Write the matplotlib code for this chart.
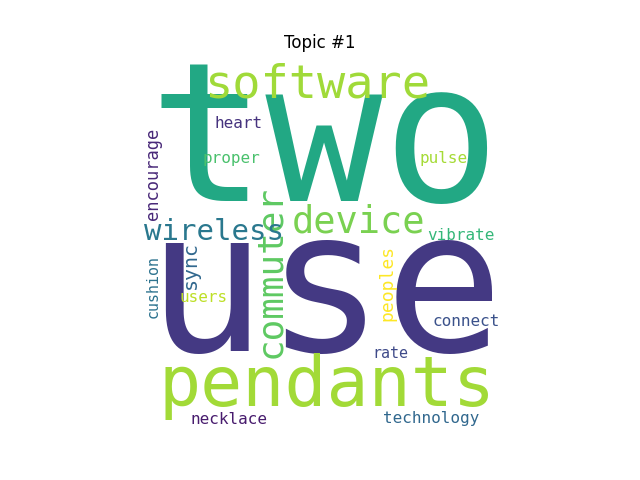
import matplotlib
matplotlib.use("Agg")
import matplotlib.pyplot as plt

words = ["two","use","software","pendants","device","commuter","wireless","sync","peoples",
         "encourage","cushion","heart","proper","pulse","vibrate","users","connect","rate",
         "necklace","technology"]
em_px = [195,198,47,70,37,36,29,20,18,17,15,16,16,16,16,16,16,15,16,16]
cx = [325,325,317,327,358,270,214,190,387,153,153,239,231,444,461,204,466,390,229,431]
cy = [146,296,85,387,222,272,232,265,283,174,287,123,159,158,236,298,321,354,419,419]
rot = [0,0,0,0,0,90,0,90,90,90,90,0,0,0,0,0,0,0,0,0]
colors = ["#22a884","#443983","#a0da39","#a2da37","#7ad151","#5ec962","#2a788e","#31688e",
          "#fde725","#482878","#2c728e","#46337e","#4ac16d","#a5db36","#35b779","#bddf26",
          "#3b528b","#3e4a89","#481c6e","#31688e"]

fig = plt.figure(figsize=(6.4,4.8), dpi=100)
ax = fig.add_axes([0,0,1,1])
ax.set_xlim(0,640); ax.set_ylim(480,0); ax.axis("off")
for w,e,x,y,r,c in zip(words,em_px,cx,cy,rot,colors):
    ax.text(x,y,w,fontsize=e*0.72,family="DejaVu Sans Mono",rotation=r,color=c,
            ha="center",va="center")
fig.text(0.5,1-43/480,"Topic #1",ha="center",va="center",fontsize=12)
fig.savefig("out.png")
